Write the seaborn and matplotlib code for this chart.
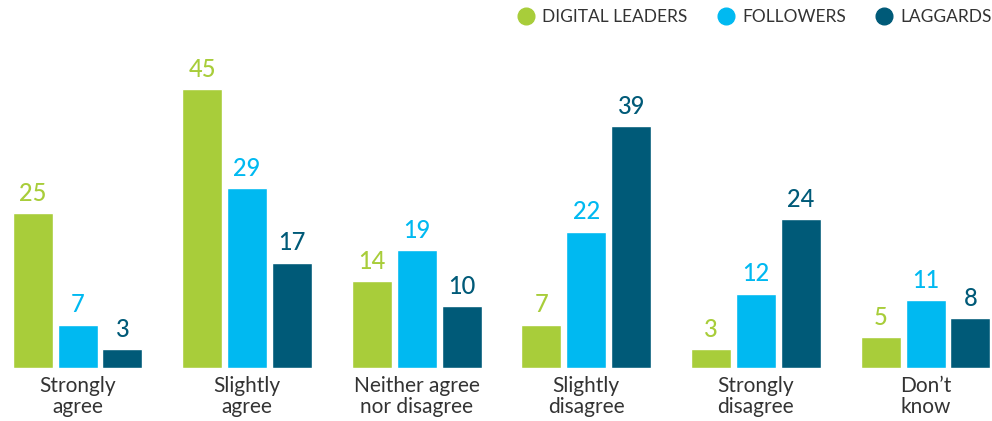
import numpy as np
import pandas as pd
import matplotlib.pyplot as plt
import seaborn as sns
from matplotlib.lines import Line2D

# data
categories = ["Strongly\nagree", "Slightly\nagree", "Neither agree\nnor disagree",
              "Slightly\ndisagree", "Strongly\ndisagree", "Don\u2019t\nknow"]
groups = ["DIGITAL LEADERS", "FOLLOWERS", "LAGGARDS"]
leaders = [25, 45, 14, 7, 3, 5]
followers = [7, 29, 19, 22, 12, 11]
laggards = [3, 17, 10, 39, 24, 8]
colors = ["#A8CD3A", "#00B9F1", "#005A78"]

df = pd.DataFrame({
    "category": categories * 3,
    "group": [g for g in groups for _ in categories],
    "value": leaders + followers + laggards,
})

sns.set_style("white")
plt.rcParams["font.family"] = ["Lato", "DejaVu Sans"]

fig = plt.figure(figsize=(9.92, 4.21), dpi=100)
ax = fig.add_axes([0, 53 / 421, 1, 368 / 421])

sns.barplot(data=df, x="category", y="value", hue="group", order=categories,
            hue_order=groups, palette=colors, width=0.795, gap=0.11,
            saturation=1, legend=False, ax=ax)

for cont, col in zip(ax.containers, colors):
    ax.bar_label(cont, padding=6, color=col, fontsize=17, fontweight="medium")

ax.set_xlim(-0.457, 5.392)
ax.set_ylim(0, 59.4)
ax.set_xlabel("")
ax.set_ylabel("")
ax.set_yticks([])
ax.tick_params(axis="x", length=0, pad=6, labelsize=15, labelcolor="#333333")
for lbl in ax.get_xticklabels():
    lbl.set_linespacing(1.05)
sns.despine(ax=ax, left=True, bottom=True, top=True, right=True)

handles = [Line2D([], [], marker="o", linestyle="", markersize=12,
                  markerfacecolor=c, markeredgecolor=c) for c in colors]
fig.legend(handles, groups, loc="upper right", bbox_to_anchor=(1.016, 1.015),
           ncol=3, frameon=False, fontsize=12.5, handlelength=1.0,
           handletextpad=0.45, columnspacing=1.7, labelcolor="#333333")

fig.savefig("out.png", dpi=100)
